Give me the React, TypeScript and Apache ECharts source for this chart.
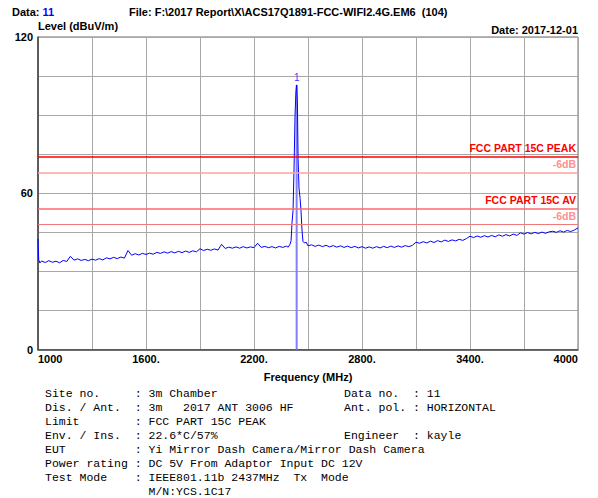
import React, { useEffect, useRef } from "react";
import * as echarts from "echarts";

// ---- header info ----
const dataNo = "11";
const fileName = "F:\\2017 Report\\X\\ACS17Q1891-FCC-WIFI2.4G.EM6  (104)";
const reportDate = "2017-12-01";
const yAxisTitle = "Level (dBuV/m)";
const xAxisTitle = "Frequency (MHz)";

// ---- axes ----
const xMin = 1000;
const xMax = 4000;
const xStep = 300;
const xLabelValues = [1000, 1600, 2200, 2800, 3400, 4000];
const yMin = 0;
const yMax = 120;
const yStep = 15;
const yLabelValues = [0, 60, 120];

// ---- limit lines ----
const limitNames = ["FCC PART 15C PEAK", "-6dB", "FCC PART 15C AV", "-6dB"];
const limitLevels = [74, 68, 54, 48];

// ---- marker ----
const markerName = "1";
const markerFreq = 2437;
const markerLevel = 101.6;

// ---- measured trace [MHz, dBuV/m] ----
const traceLow: [number, number][] = [
  [1000, 42.5], [1004, 34.5], [1010, 33.2], [1020, 34.0], [1040, 33.4], [1060, 34.1],
  [1080, 33.5], [1100, 33.9], [1120, 33.3], [1140, 34.2], [1160, 33.8], [1180, 35.8],
  [1200, 34.3], [1220, 34.8], [1240, 34.2], [1260, 34.6], [1280, 34.1], [1300, 34.7],
  [1320, 34.3], [1340, 34.9], [1360, 34.4], [1380, 35.2], [1400, 34.8], [1420, 35.4],
  [1440, 34.9], [1460, 35.5], [1480, 35.1], [1500, 38.0], [1520, 36.2], [1540, 36.8],
  [1560, 36.3], [1580, 36.9], [1600, 36.5], [1620, 37.0], [1640, 36.6], [1660, 37.3],
  [1680, 36.9], [1700, 37.5], [1720, 37.0], [1740, 37.6], [1760, 37.1], [1780, 37.7],
  [1800, 37.2], [1820, 37.8], [1840, 37.3], [1860, 37.9], [1880, 37.5], [1900, 38.7],
  [1920, 38.0], [1940, 38.5], [1960, 38.1], [1980, 38.6], [2000, 38.2], [2020, 40.4],
  [2040, 38.8], [2060, 39.3], [2080, 38.9], [2100, 39.4], [2120, 38.9], [2140, 39.5],
  [2160, 39.0], [2180, 39.4], [2200, 39.1], [2220, 40.8], [2240, 39.2], [2260, 39.6],
  [2280, 39.1], [2300, 39.5], [2320, 39.0], [2340, 39.6], [2360, 39.2], [2380, 39.7],
  [2390, 39.3], [2400, 40.4], [2406, 41.8],
];
const tracePeak: [number, number][] = [
  [2411, 48.5], [2417, 53.5], [2422, 68.0], [2428, 90.0], [2433, 99.0], [2437, 101.6],
  [2441, 95.0], [2445, 73.0], [2450, 62.0], [2456, 58.0], [2461, 53.5], [2467, 45.5],
  [2472, 41.5],
];
const traceHigh: [number, number][] = [
  [2480, 40.9], [2490, 41.2], [2500, 39.8], [2520, 40.2], [2540, 39.6], [2560, 40.1],
  [2580, 39.5], [2600, 40.0], [2620, 39.4], [2640, 39.9], [2660, 39.3], [2680, 39.8],
  [2700, 39.2], [2720, 39.7], [2740, 39.1], [2760, 39.6], [2780, 39.0], [2800, 39.5],
  [2820, 38.9], [2840, 39.4], [2860, 38.9], [2880, 39.5], [2900, 39.0], [2920, 39.6],
  [2940, 39.1], [2960, 39.7], [2980, 39.2], [3000, 39.8], [3020, 39.3], [3040, 39.9],
  [3060, 39.5], [3080, 40.0], [3100, 41.2], [3120, 40.8], [3140, 41.4], [3160, 40.9],
  [3180, 41.6], [3200, 41.1], [3220, 41.8], [3240, 41.3], [3260, 42.0], [3280, 41.5],
  [3300, 42.1], [3320, 41.7], [3340, 42.3], [3360, 41.9], [3380, 42.6], [3400, 43.5],
  [3420, 43.0], [3440, 43.6], [3460, 43.1], [3480, 43.7], [3500, 43.2], [3520, 43.8],
  [3540, 43.3], [3560, 44.0], [3580, 43.5], [3600, 44.1], [3620, 43.6], [3640, 44.3],
  [3660, 43.8], [3680, 44.8], [3700, 44.3], [3720, 44.9], [3740, 44.4], [3760, 45.0],
  [3780, 44.5], [3800, 45.1], [3820, 44.6], [3840, 45.2], [3860, 45.4], [3880, 45.0],
  [3900, 45.6], [3920, 45.1], [3940, 45.7], [3960, 45.3], [3980, 45.9], [4000, 46.7],
];

// ---- info table ----
const infoLeftLabels = ["Site no.", "Dis. / Ant.", "Limit", "Env. / Ins.", "EUT", "Power rating", "Test Mode", ""];
const infoLeftValues = [
  "3m Chamber",
  "3m   2017 ANT 3006 HF",
  "FCC PART 15C PEAK",
  "22.6*C/57%",
  "Yi Mirror Dash Camera/Mirror Dash Camera",
  "DC 5V From Adaptor Input DC 12V",
  "IEEE801.11b 2437MHz  Tx  Mode",
  "M/N:YCS.1C17",
];
const infoRightLabels = ["Data no.", "Ant. pol.", "", "Engineer", "", "", "", ""];
const infoRightValues = ["11", "HORIZONTAL", "", "kayle", "", "", "", ""];

const limitColors = ["#ff0000", "#ffa0a0", "#ff6868", "#f07878"];
const limitWidths = [1.6, 1.5, 1.5, 1.2];
const limitLabelColors = ["#ff0000", "#ff9090", "#ff0000", "#ff9090"];

const nb = (s: string) => s.replace(/ /g, "\u00a0");

export default function App() {
  const ref = useRef<HTMLDivElement>(null);

  useEffect(() => {
    if (!ref.current) return;
    const chart = echarts.init(ref.current, undefined, { renderer: "svg" });
    const sans = "Liberation Sans, Arial, sans-serif";
    const mono = "Liberation Mono, monospace";

    const graphics: any[] = [
      {
        type: "text",
        left: 12,
        top: 6,
        style: {
          text: "{a|Data: }{b|" + dataNo + "}",
          rich: {
            a: { font: "bold 11px " + sans, fill: "#000" },
            b: { font: "bold 11px " + sans, fill: "#0000ff" },
          },
        },
      },
      {
        type: "text",
        left: 129,
        top: 6,
        style: { text: nb("File: " + fileName), font: "bold 11px " + sans, fill: "#000" },
      },
      {
        type: "text",
        right: 20,
        top: 24,
        style: { text: "Date: " + reportDate, font: "bold 11px " + sans, fill: "#000" },
      },
    ];

    infoLeftLabels.forEach((lab, i) => {
      const left = lab ? lab.padEnd(12, " ") + " : " : "".padEnd(15, " ");
      graphics.push({
        type: "text",
        x: 45,
        y: 393 + i * 14.1,
        style: {
          text: nb(left + infoLeftValues[i]),
          font: "11.5px " + mono,
          fill: "#000",
          verticalAlign: "middle",
        },
      });
      if (infoRightLabels[i]) {
        graphics.push({
          type: "text",
          x: 344,
          y: 393 + i * 14.1,
          style: {
            text: nb(infoRightLabels[i].padEnd(10, " ") + ": " + infoRightValues[i]),
            font: "11.5px " + mono,
            fill: "#000",
            verticalAlign: "middle",
          },
        });
      }
    });

    const trace = [...traceLow, ...tracePeak, ...traceHigh];

    chart.setOption({
      animation: false,
      backgroundColor: "#ffffff",
      grid: {
        left: 38,
        right: 20,
        top: 37,
        bottom: 148.5,
        show: true,
        borderColor: "#707070",
        borderWidth: 1,
      },
      xAxis: {
        type: "value",
        min: xMin,
        max: xMax,
        interval: xStep,
        name: xAxisTitle,
        nameLocation: "middle",
        nameGap: 22,
        nameTextStyle: { fontFamily: sans, fontWeight: "bold", fontSize: 11, color: "#000" },
        axisLine: { show: true, onZero: false, lineStyle: { color: "#404040", width: 1.5 } },
        axisTick: { show: false },
        splitLine: { show: true, lineStyle: { color: "#a8a8a8", width: 1 } },
        axisLabel: {
          margin: 4,
          fontFamily: sans,
          fontWeight: "bold",
          fontSize: 11,
          color: "#000",
          alignMinLabel: "left",
          alignMaxLabel: "right",
          formatter: (v: number) => {
            if (!xLabelValues.includes(v)) return "";
            if (v === xMin || v === xMax) return String(v);
            return v + ".";
          },
        },
      },
      yAxis: {
        type: "value",
        min: yMin,
        max: yMax,
        interval: yStep,
        name: yAxisTitle,
        nameLocation: "end",
        nameGap: 4,
        nameTextStyle: {
          fontFamily: sans,
          fontWeight: "bold",
          fontSize: 11,
          color: "#000",
          align: "left",
          verticalAlign: "bottom",
        },
        axisLine: { show: true, lineStyle: { color: "#404040", width: 1.5 } },
        axisTick: { show: false },
        splitLine: { show: true, lineStyle: { color: "#a8a8a8", width: 1 } },
        axisLabel: {
          margin: 5,
          fontFamily: sans,
          fontWeight: "bold",
          fontSize: 11,
          color: "#000",
          formatter: (v: number) => (yLabelValues.includes(v) ? String(v) : ""),
        },
      },
      graphic: graphics,
      series: [
        {
          type: "line",
          name: "marker",
          data: [
            [markerFreq, yMin],
            [markerFreq, markerLevel],
          ],
          showSymbol: false,
          symbol: "none",
          silent: true,
          z: 1,
          lineStyle: { color: "#8080ff", width: 2 },
        },
        {
          type: "line",
          name: "trace",
          data: trace,
          showSymbol: false,
          symbol: "none",
          z: 3,
          lineStyle: { color: "#0000ff", width: 1 },
          markLine: {
            silent: true,
            symbol: "none",
            animation: false,
            data: limitLevels.map((lv, i) => ({
              yAxis: lv,
              name: limitNames[i],
              lineStyle: { color: limitColors[i], width: limitWidths[i], type: "solid", opacity: 1 },
              label: {
                show: true,
                position: "insideEndTop",
                formatter: limitNames[i],
                color: limitLabelColors[i],
                fontFamily: sans,
                fontWeight: "bold",
                fontSize: 10.5,
                distance: [2, 3],
              },
            })),
          },
        },
        {
          type: "scatter",
          name: "markerLabel",
          data: [[markerFreq, markerLevel]],
          symbolSize: 0,
          z: 4,
          label: {
            show: true,
            position: "top",
            distance: 2,
            formatter: markerName,
            color: "#0000ff",
            fontFamily: sans,
            fontSize: 10,
          },
        },
      ],
    });

    return () => chart.dispose();
  }, []);

  return (
    <div
      ref={ref}
      style={{ position: "fixed", left: 0, top: 0, width: 598, height: 498, background: "#fff" }}
    />
  );
}
